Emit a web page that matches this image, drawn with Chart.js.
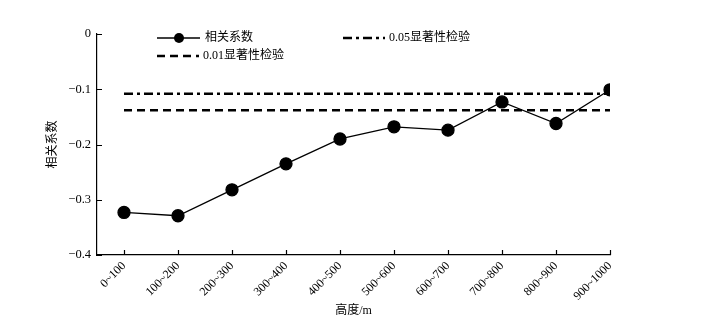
<!DOCTYPE html>
<html>
<head>
<meta charset="utf-8">
<script src="https://cdn.jsdelivr.net/npm/chart.js@4.4.1/dist/chart.umd.min.js"></script>
<style>
  html, body { margin: 0; padding: 0; background: #fff; }
  #wrap { width: 708px; height: 326px; }
</style>
</head>
<body>
<div id="wrap"><canvas id="corrChart"></canvas></div>
<script>
// values
const heightBands = ['0~100', '100~200', '200~300', '300~400', '400~500',
  '500~600', '600~700', '700~800', '800~900', '900~1000'];
const corrValues = [-0.323, -0.329, -0.282, -0.235, -0.19, -0.168, -0.174, -0.123, -0.162, -0.101];
const sig05 = -0.108;
const sig01 = -0.138;
const yTicks = [0, -0.1, -0.2, -0.3, -0.4];

const serif = "'Liberation Serif', 'DejaVu Serif', serif";
const cjk = "'Liberation Serif', 'Noto Sans CJK SC', serif";

const pts = corrValues.map((v, i) => ({ x: i, y: v }));
const lastIdx = heightBands.length - 1;
const line05 = [{ x: 0, y: sig05 }, { x: lastIdx, y: sig05 }];
const line01 = [{ x: 0, y: sig01 }, { x: lastIdx, y: sig01 }];

const DASH = [8, 5];
const DASHDOT = [9, 4, 3, 4];

// tick marks pointing into the plot, like the original
const innerTicks = {
  id: 'innerTicks',
  afterDraw(chart) {
    const ctx = chart.ctx;
    const xs = chart.scales.x, ys = chart.scales.y;
    ctx.save();
    ctx.strokeStyle = '#000';
    ctx.lineWidth = 1.2;
    ctx.beginPath();
    xs.ticks.forEach((t, i) => {
      const px = Math.round(xs.getPixelForTick(i)) + 0.5;
      ctx.moveTo(px, xs.top);
      ctx.lineTo(px, xs.top - 5);
    });
    ys.ticks.forEach((t, i) => {
      const py = Math.round(ys.getPixelForTick(i)) + 0.5;
      ctx.moveTo(ys.right, py);
      ctx.lineTo(ys.right + 5, py);
    });
    ctx.stroke();
    ctx.restore();
  }
};

// two-column legend in the top of the plot
const sideLegend = {
  id: 'sideLegend',
  afterDraw(chart) {
    const ctx = chart.ctx;
    ctx.save();
    ctx.strokeStyle = '#000';
    ctx.fillStyle = '#000';
    ctx.font = "12px " + cjk;
    ctx.textBaseline = 'middle';

    // row 1 left: series
    ctx.lineWidth = 1.3;
    ctx.setLineDash([]);
    ctx.beginPath(); ctx.moveTo(157, 38); ctx.lineTo(200, 38); ctx.stroke();
    ctx.beginPath(); ctx.arc(179, 38, 5, 0, Math.PI * 2); ctx.fill();
    ctx.fillText(chart.data.datasets[0].label, 205, 38);

    // row 1 right: 0.05
    ctx.lineWidth = 2.5;
    ctx.setLineDash(DASHDOT);
    ctx.beginPath(); ctx.moveTo(343, 38); ctx.lineTo(385, 38); ctx.stroke();
    ctx.setLineDash([]);
    ctx.fillText(chart.data.datasets[1].label, 389, 38);

    // row 2 left: 0.01
    ctx.setLineDash(DASH);
    ctx.beginPath(); ctx.moveTo(157, 56); ctx.lineTo(199, 56); ctx.stroke();
    ctx.setLineDash([]);
    ctx.fillText(chart.data.datasets[2].label, 203, 56);
    ctx.restore();
  }
};

new Chart(document.getElementById('corrChart'), {
  type: 'scatter',
  data: {
    datasets: [
      {
        label: '相关系数',
        data: pts,
        showLine: true,
        borderColor: '#000',
        backgroundColor: '#000',
        borderWidth: 1.3,
        pointRadius: 6,
        pointHoverRadius: 6,
        order: 1
      },
      {
        label: '0.05显著性检验',
        data: line05,
        showLine: true,
        borderColor: '#000',
        borderWidth: 2.5,
        borderDash: DASHDOT,
        pointRadius: 0,
        order: 2
      },
      {
        label: '0.01显著性检验',
        data: line01,
        showLine: true,
        borderColor: '#000',
        borderWidth: 2.5,
        borderDash: DASH,
        pointRadius: 0,
        order: 3
      }
    ]
  },
  options: {
    responsive: true,
    maintainAspectRatio: false,
    animation: false,
    layout: { padding: { top: 34, right: 98, bottom: 0, left: 46 } },
    plugins: {
      legend: { display: false },
      tooltip: { enabled: false }
    },
    scales: {
      x: {
        type: 'linear',
        min: -0.5,
        max: lastIdx,
        afterBuildTicks: scale => {
          scale.ticks = heightBands.map((b, i) => ({ value: i }));
        },
        afterFit: scale => { scale.height = 71; },
        grid: { display: true, drawOnChartArea: false, drawTicks: false },
        border: { display: true, color: '#000', width: 1.2 },
        ticks: {
          color: '#000',
          font: { size: 12, family: serif },
          minRotation: 45,
          maxRotation: 45,
          padding: 4,
          autoSkip: false,
          callback: v => heightBands[v]
        },
        title: {
          display: true,
          text: '高度/m',
          color: '#000',
          font: { size: 12, family: cjk },
          padding: { top: 0, bottom: 8 }
        }
      },
      y: {
        min: -0.4,
        max: 0,
        afterBuildTicks: scale => {
          scale.ticks = yTicks.map(v => ({ value: v }));
        },
        afterFit: scale => { scale.width = 51; },
        grid: { display: true, drawOnChartArea: false, drawTicks: false },
        border: { display: true, color: '#000', width: 1.2 },
        ticks: {
          color: '#000',
          font: { size: 12.5, family: serif },
          padding: 6,
          callback: v => v === 0 ? '0' : '\u2212' + Math.abs(v).toFixed(1)
        },
        title: {
          display: true,
          text: '相关系数',
          color: '#000',
          font: { size: 12, family: cjk },
          padding: { top: 0, bottom: 0 }
        }
      }
    }
  },
  plugins: [innerTicks, sideLegend]
});
</script>
</body>
</html>
